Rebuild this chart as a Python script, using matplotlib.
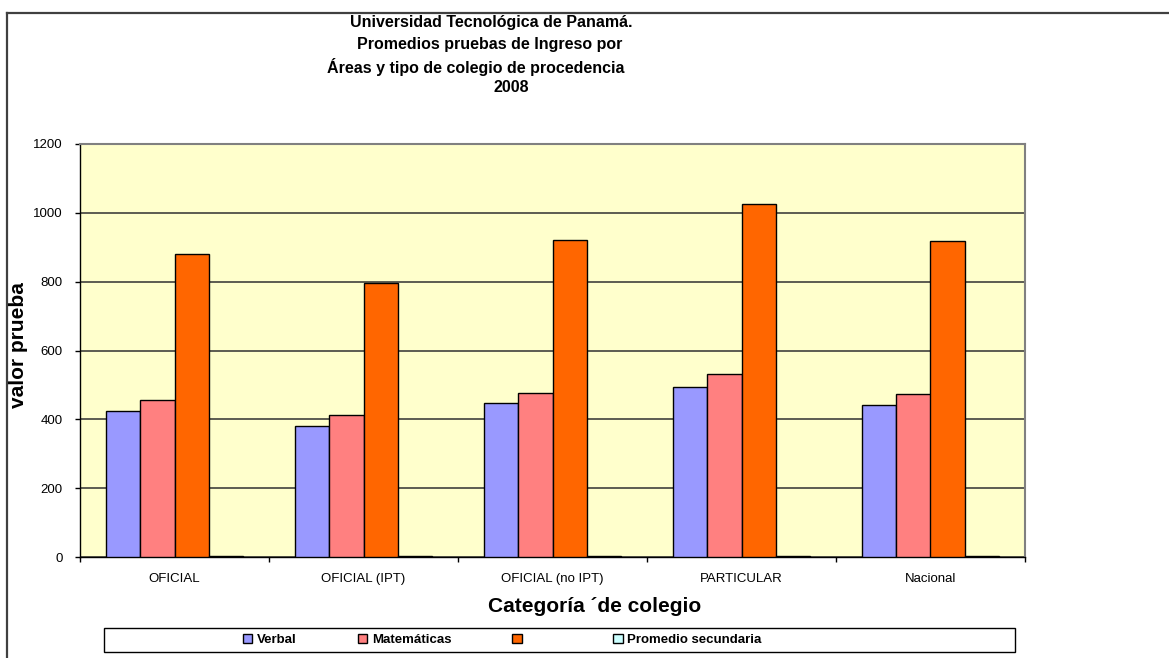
import matplotlib
matplotlib.use("Agg")
import matplotlib.pyplot as plt
import numpy as np
from matplotlib.lines import Line2D
from matplotlib.patches import Rectangle

plt.rcParams["font.family"] = ["Liberation Sans", "DejaVu Sans"]

CATEGORIES = ["OFICIAL", "OFICIAL (IPT)", "OFICIAL (no IPT)", "PARTICULAR", "Nacional"]
VERBAL = [423, 381, 447, 494, 442]
MATEMATICAS = [456, 414, 476, 532, 474]
TOTAL = [879, 795, 922, 1027, 918]
PROMEDIO_SEC = [4, 4, 4, 4, 4]

SERIES = [
    ("Verbal", VERBAL, "#9999FF"),
    ("Matemáticas", MATEMATICAS, "#FF8080"),
    ("", TOTAL, "#FF6600"),
    ("Promedio secundaria", PROMEDIO_SEC, "#CCFFFF"),
]
TITLE_LINES = [
    ("Universidad Tecnológica de Panamá.", 350, 23),
    ("Promedios pruebas de Ingreso por", 357, 45),
    ("Áreas y tipo de colegio de procedencia", 327, 67),
    ("2008", 493, 88),
]

W, H = 1169, 658
fig = plt.figure(figsize=(W / 100, H / 100), dpi=100)
ax = fig.add_axes([80 / W, 1 - 557 / H, 945 / W, 413 / H])
ax.set_facecolor("#FFFFCC")

x = np.arange(len(CATEGORIES))
width = 0.1825
handles = []
for k, (label, vals, color) in enumerate(SERIES):
    offset = (k - 1.5) * width
    bars = ax.bar(x + offset, vals, width, color=color, edgecolor="black",
                  linewidth=1.0, zorder=3, label=label)
    handles.append(bars)

ax.set_xlim(-0.5, len(CATEGORIES) - 0.5)
ax.set_ylim(0, 1200)
ax.set_yticks(range(0, 1201, 200))
ax.yaxis.grid(True, color="#303030", linewidth=1.1, zorder=1)
ax.set_axisbelow(True)

ax.set_xticks(x, CATEGORIES)
ax.set_xticks(np.arange(-0.5, len(CATEGORIES)), minor=True)
ax.tick_params(axis="x", which="major", length=0, pad=11.5, labelsize=9.5)
ax.tick_params(axis="x", which="minor", length=3.5, width=1, direction="out")
ax.tick_params(axis="y", length=3.5, width=1, direction="out", pad=9, labelsize=9.5)

for side in ("left", "bottom"):
    ax.spines[side].set_color("black")
    ax.spines[side].set_linewidth(1.0)
for side in ("top", "right"):
    ax.spines[side].set_color("#808080")
    ax.spines[side].set_linewidth(1.5)

for text, px, py in TITLE_LINES:
    fig.text(px / W, 1 - py / H, text, ha="left", va="center",
             fontsize=11.5, fontweight="bold")

fig.text(19 / W, 1 - 345 / H, "valor prueba", rotation=90, ha="center",
         va="center", fontsize=15, fontweight="bold")
fig.text(595 / W, 1 - 607 / H, "Categoría ´de colegio", ha="center",
         va="center", fontsize=15, fontweight="bold")

labels = [s[0] if s[0] else " " * 7 for s in SERIES]
fig.legend(handles, labels, loc="center left", bbox_to_anchor=(236 / W, 1 - 640 / H),
           ncol=4, frameon=False, borderpad=0, handlelength=0.75, handleheight=0.75,
           handletextpad=0.35, columnspacing=4.6,
           prop={"size": 9.5, "weight": "bold"})
fig.patches.append(Rectangle((104 / W, 1 - 652 / H), 911 / W, 24 / H,
                             transform=fig.transFigure, fill=False,
                             edgecolor="black", linewidth=1.0))

# outer chart frame (top and left edges only are visible)
fig.lines.append(Line2D([7 / W, 1], [1 - 13 / H, 1 - 13 / H],
                        transform=fig.transFigure, color="#404040", linewidth=1.6))
fig.lines.append(Line2D([7 / W, 7 / W], [0, 1 - 13 / H],
                        transform=fig.transFigure, color="#404040", linewidth=1.6))

fig.savefig("out.png", dpi=100)
